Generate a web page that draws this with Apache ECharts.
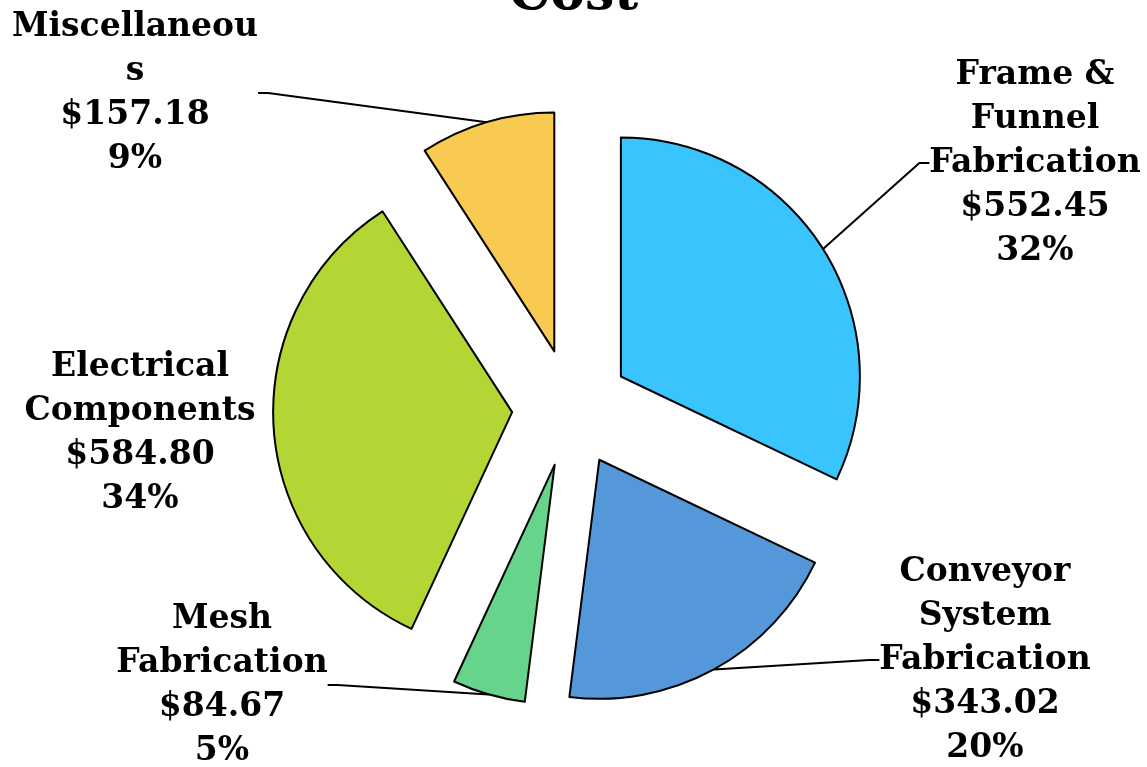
<!DOCTYPE html>
<html>
<head>
<meta charset="utf-8">
<script src="https://cdn.jsdelivr.net/npm/echarts@6/dist/echarts.min.js"></script>
<style>
  html, body { margin: 0; padding: 0; background: #fff; }
  #chart { width: 1147px; height: 767px; }
</style>
</head>
<body>
<div id="chart"></div>
<script>
// data
var categories = ['Frame & Funnel Fabrication', 'Conveyor System Fabrication', 'Mesh Fabrication', 'Electrical Components', 'Miscellaneous'];
var labelNames = ['Frame &\nFunnel\nFabrication', 'Conveyor\nSystem\nFabrication', 'Mesh\nFabrication', 'Electrical\nComponents', 'Miscellaneou\ns'];
var costs = [552.45, 343.02, 84.67, 584.80, 157.18];
var colors = ['#3ac4fd', '#5598d9', '#66d48a', '#b3d634', '#f8ca52'];

// where the labels sit (excel put them by hand)
var labelSpots = [[1035, 163], [985, 660], [222, 685], [140, 433], [135, 93]];

var cx = 571, cy = 408, explode = 59;
var total = costs.reduce(function (a, b) { return a + b; }, 0);

// every slice is its own pie so it can be pushed out along its mid angle
var series = [];
var acc = 0;
costs.forEach(function (v, i) {
    var mid = (acc + v / 2) / total * Math.PI * 2;
    acc += v;
    series.push({
        type: 'pie',
        center: [cx + explode * Math.sin(mid), cy - explode * Math.cos(mid)],
        radius: 239,
        startAngle: 90,
        clockwise: true,
        animation: false,
        silent: true,
        percentPrecision: 0,
        label: {
            show: true,
            position: 'outside',
            color: '#000',
            fontFamily: 'DejaVu Serif',
            fontWeight: 'bold',
            fontSize: 33,
            lineHeight: 44,
            align: 'center',
            overflow: 'none',
            formatter: function (p) {
                return labelNames[p.dataIndex] + '\n$' + p.value.toFixed(2) + '\n' + p.percent + '%';
            }
        },
        labelLine: {
            show: true,
            length: 20,
            length2: 10,
            lineStyle: { color: '#000', width: 2 }
        },
        labelLayout: function (params) {
            var s = labelSpots[params.dataIndex];
            return { x: s[0], y: s[1], align: 'center', verticalAlign: 'middle' };
        },
        data: categories.map(function (name, j) {
            var mine = j === i;
            return {
                name: name,
                value: costs[j],
                itemStyle: mine
                    ? { color: colors[j], borderColor: '#000', borderWidth: 2 }
                    : { color: 'rgba(0,0,0,0)', borderWidth: 0 },
                label: { show: mine },
                labelLine: { show: mine && j !== 3 }
            };
        })
    });
});

var myChart = echarts.init(document.getElementById('chart'));
var option = {
    title: {
        text: 'Cost',
        left: 'center',
        top: -36,
        textStyle: {
            fontFamily: 'DejaVu Serif',
            fontWeight: 'bold',
            fontSize: 52,
            color: '#000'
        }
    },
    series: series
};

option && myChart.setOption(option);
</script>
</body>
</html>
